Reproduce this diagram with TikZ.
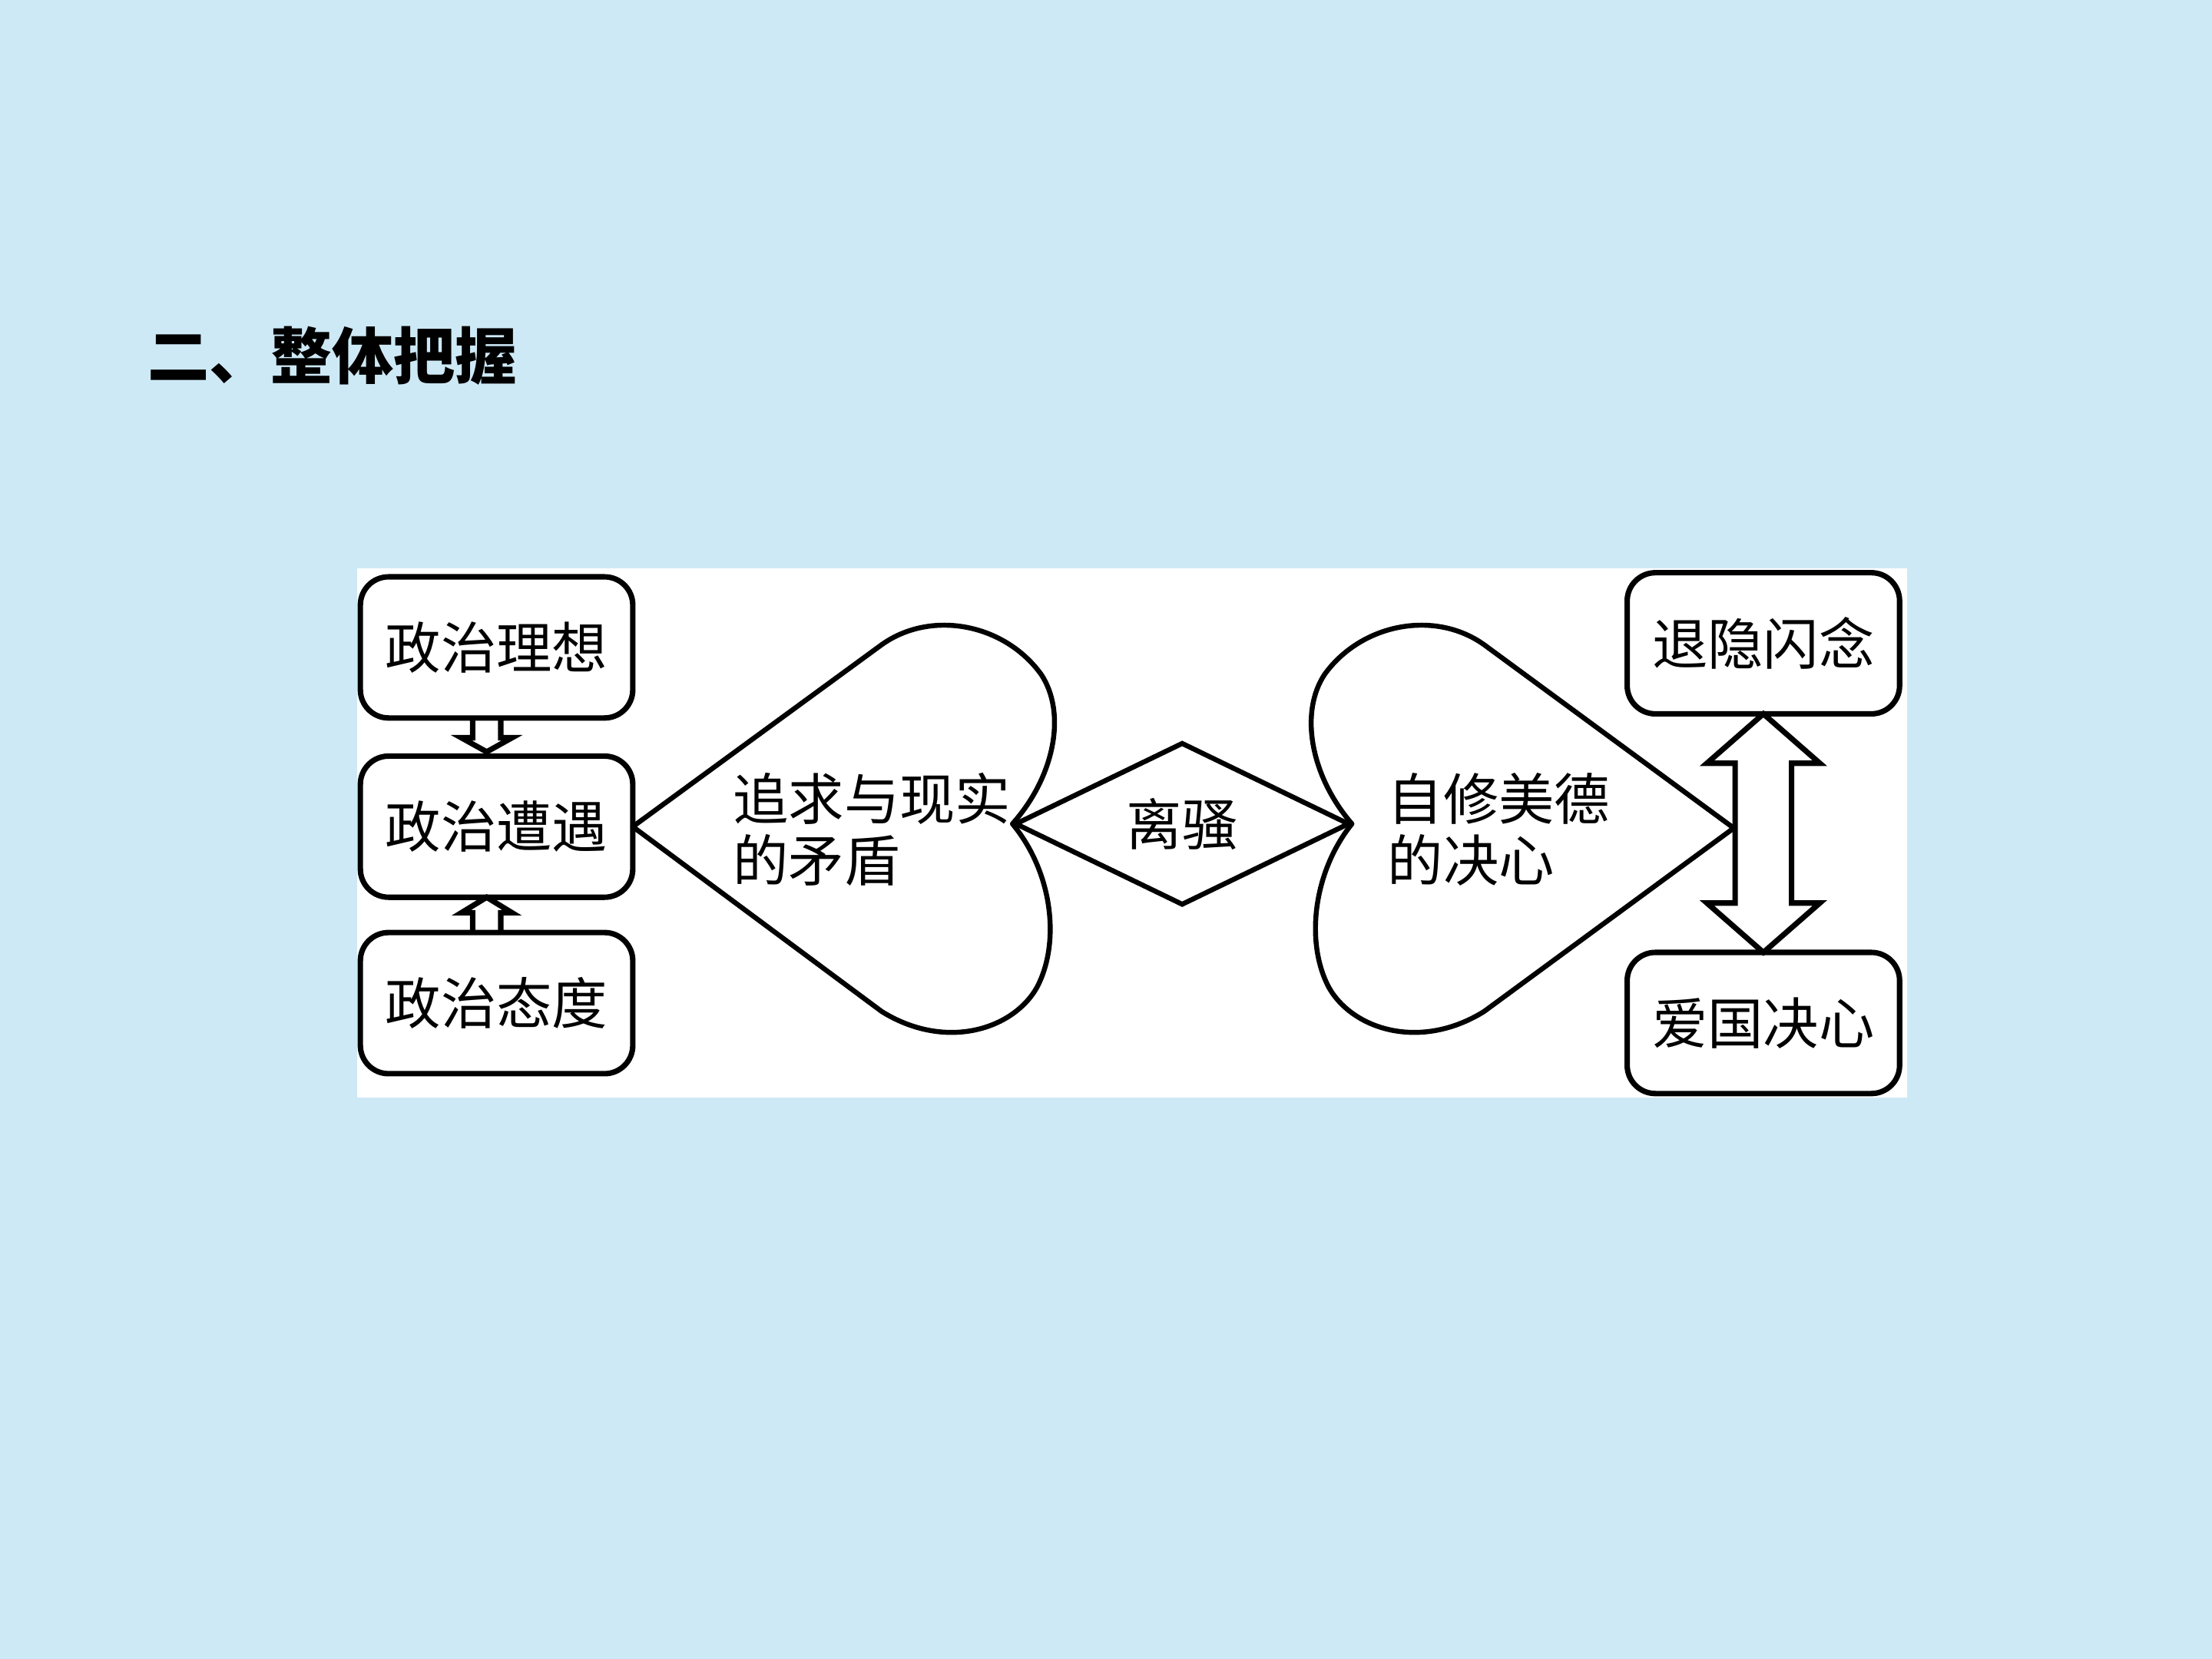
\documentclass[tikz,border=0pt]{standalone}
\usepackage{fontspec}
\newfontfamily\cjk{Noto Sans CJK SC}
\usepackage{tikz}
\usetikzlibrary{positioning,shapes.geometric,calc}
\usepackage{xcolor}
\definecolor{slideblue}{RGB}{205,233,246}
\newcommand\boxfont{\cjk\fontsize{11.2}{12.3}\selectfont}
\newcommand\titlefont{\cjk\bfseries\fontsize{12.4}{14}\selectfont}
\tikzset{
  topicbox/.style={draw, rounded corners=0.2cm, line width=1.1pt, fill=white, align=center, minimum height=1cm, minimum width=1.93cm, inner sep=0pt, outer sep=0pt, font=\boxfont},
  heartline/.style={line width=1pt, line join=round},
  hollow/.style={line width=1.1pt, line join=miter},
  hearttext/.style={anchor=west, align=left, inner sep=0pt, font=\boxfont}
}

\begin{document}
\begin{tikzpicture}[x=0.01cm, y=-0.01cm, node distance=0.26cm]
\fill[slideblue] (0,0) rectangle (1568,1176);
\fill[white] (253,403) rectangle (1352,778);
\node[anchor=west, inner sep=0pt, font=\titlefont] (title) at (104,252) {二、整体把握};
% left column
\node[topicbox] (zhengzhi2) at (352,586) {政治遭遇};
\node[topicbox, above=0.27cm of zhengzhi2] (zhengzhi1) {政治理想};
\node[topicbox, below=0.25cm of zhengzhi2] (zhengzhi3) {政治态度};
\draw[hollow] ($(zhengzhi1.south)+(-17,0)$) -- ++(0,14) -- ++(-8,0) -- ($(zhengzhi1.south)+(-7,24)$) -- ++(18,-10) -- ++(-8,0) -- ++(0,-14);
\draw[hollow] ($(zhengzhi3.north)+(-17,0)$) -- ++(0,-14) -- ++(-8,0) -- ($(zhengzhi3.north)+(-7,-25)$) -- ++(18,11) -- ++(-8,0) -- ++(0,14);
% middle
\node[draw, diamond, line width=1pt, minimum width=2.37cm, minimum height=1.06cm, inner sep=0pt, font=\boxfont] (lisao) at (838,584) {离骚};
\draw[heartline] (zhengzhi2.east) -- (625,457)
  .. controls (660,432) and (712,442) .. (738,478)
  .. controls (756,505) and (748,550) .. (lisao.west)
  .. controls (746,618) and (752,668) .. (735,700)
  .. controls (718,730) and (670,745) .. (625,717) -- cycle;
\node[hearttext] (zhuiqiu) at (519,588) {追求与现实\\的矛盾};
% right column
\node[topicbox] (tuiyin) at (1250,456) {退隐闪念};
\node[topicbox, below=1.69cm of tuiyin] (aiguo) {爱国决心};
\draw[hollow, fill=white] (tuiyin.south) -- ++(40,35) -- ++(-20,0) -- ($(aiguo.north)+(20,-35)$) -- ++(20,0) -- (aiguo.north) -- ++(-40,-35) -- ++(20,0) -- ($(tuiyin.south)+(-20,35)$) -- ++(-20,0) -- cycle;
\coordinate (tip2) at (1229,587);
\draw[heartline] (tip2) -- (1052,457)
  .. controls (1017,432) and (965,442) .. (939,478)
  .. controls (921,505) and (929,550) .. (lisao.east)
  .. controls (931,618) and (925,668) .. (942,700)
  .. controls (959,730) and (1007,745) .. (1052,717) -- cycle;
\node[hearttext] (zixiu) at (983,588) {自修美德\\的决心};
\end{tikzpicture}
\end{document}
